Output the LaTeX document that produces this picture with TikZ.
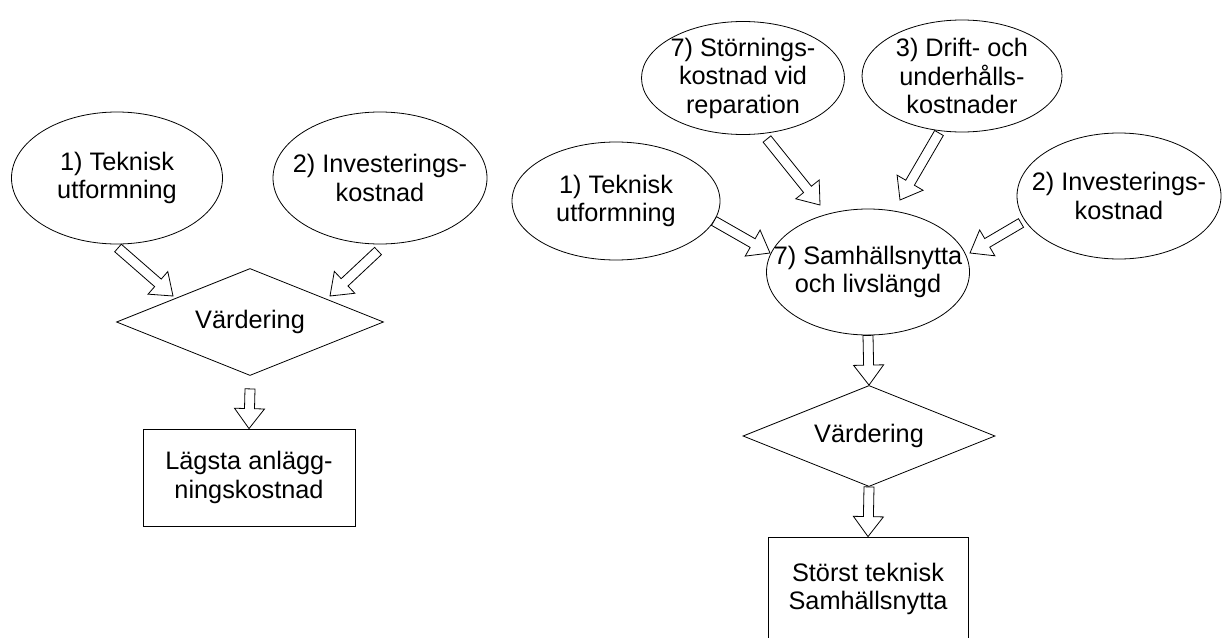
\documentclass[tikz,border=0pt]{standalone}
\usepackage{fontspec}
\setmainfont{Liberation Sans}
\usetikzlibrary{shapes.geometric,calc}
\newcommand\fsz{\fontsize{25.3}{28.5}\selectfont}
\newcommand\barrow[2]{%
  \path ($(#2)!20pt!(#1)$) coordinate (bh);
  \draw[bar] ($(#1)!5pt!90:(#2)$) -- ($(bh)!5pt!-90:(#1)$) -- ($(bh)!15pt!-90:(#1)$) -- (#2)
    -- ($(bh)!15pt!90:(#1)$) -- ($(bh)!5pt!90:(#1)$) -- ($(#1)!5pt!-90:(#2)$) -- cycle;}
\tikzset{
  lw/.style={line width=0.8pt},
  oval/.style={draw, lw, ellipse, inner sep=0pt},
  txt/.style={align=center, font=\fsz, inner sep=0pt},
  decide/.style={draw, lw, diamond, aspect=2.5, inner sep=0pt, font=\fsz},
  result/.style={draw, lw, rectangle, inner sep=0pt, align=center, font=\fsz},
  bar/.style={draw, lw, fill=white, line join=miter},
}
\begin{document}
\begin{tikzpicture}[x=1pt,y=-1pt]
\clip (0,0) rectangle (1222,637);
\fill[white] (0,0) rectangle (1222,637);
% ---------- left diagram ----------
\node[oval, minimum width=211pt, minimum height=132pt] (L1) at (117,178) {};
\node[txt] (L1t) at (L1) {1) Teknisk\\utformning};
\node[oval, minimum width=214pt, minimum height=132pt] (L2) at (380,178) {};
\node[txt] (L2t) at (L2) {2) Investerings-\\kostnad};
\node[decide, minimum width=267pt, minimum height=107pt] (LD) at (250,322) {Värdering};
\node[result, minimum width=212pt, minimum height=97pt] (LB) at (249,477.5) {Lägsta anlägg-\\ningskostnad};
\coordinate (a1s) at (118,248); \coordinate (a1e) at (173,296);
\coordinate (a2s) at (378,251); \coordinate (a2e) at (330,296);
\coordinate (a3s) at (LD.south); \coordinate (a3e) at (LB.north);
\coordinate (a3t) at ($(a3s)+(0,13)$);
\barrow{a1s}{a1e}
\barrow{a2s}{a2e}
\barrow{a3t}{a3e}
% ---------- right diagram ----------
\node[oval, minimum width=203pt, minimum height=113pt] (R7) at (743,78) {};
\node[txt] (R7t) at (R7) {7) Störnings-\\kostnad vid\\reparation};
\node[oval, minimum width=200pt, minimum height=112pt] (R3) at (962,76) {};
\node[txt] (R3t) at (R3) {3) Drift- och\\underhålls-\\kostnader};
\node[oval, minimum width=208pt, minimum height=118pt] (R1) at (616,201) {};
\node[txt] (R1t) at (R1) {1) Teknisk\\utformning};
\node[oval, minimum width=204pt, minimum height=126pt] (R2) at (1119,196) {};
\node[txt] (R2t) at (R2) {2) Investerings-\\kostnad};
\node[oval, minimum width=203pt, minimum height=126pt] (RC) at (868,272) {};
\node[txt] (RCt) at (RC) {7) Samhällsnytta\\och livslängd};
\node[decide, minimum width=252pt, minimum height=101pt] (RD) at (869,436) {Värdering};
\node[result, minimum width=200pt, minimum height=104pt] (RB) at (868,589) {Störst teknisk\\Samhällsnytta};
\coordinate (b1s) at (767,139); \coordinate (b1e) at (820,205);
\coordinate (b2s) at (939,133); \coordinate (b2e) at (900,200);
\coordinate (b3s) at (714,221); \coordinate (b3e) at (770,253);
\coordinate (b4s) at (1021,223); \coordinate (b4e) at (970,253);
\barrow{b1s}{b1e}
\barrow{b2s}{b2e}
\barrow{b3s}{b3e}
\barrow{b4s}{b4e}
\coordinate (b5s) at (RC.south); \coordinate (b5e) at (RD.north);
\coordinate (b6s) at (RD.south); \coordinate (b6e) at (RB.north);
\barrow{b5s}{b5e}
\barrow{b6s}{b6e}
\end{tikzpicture}
\end{document}
